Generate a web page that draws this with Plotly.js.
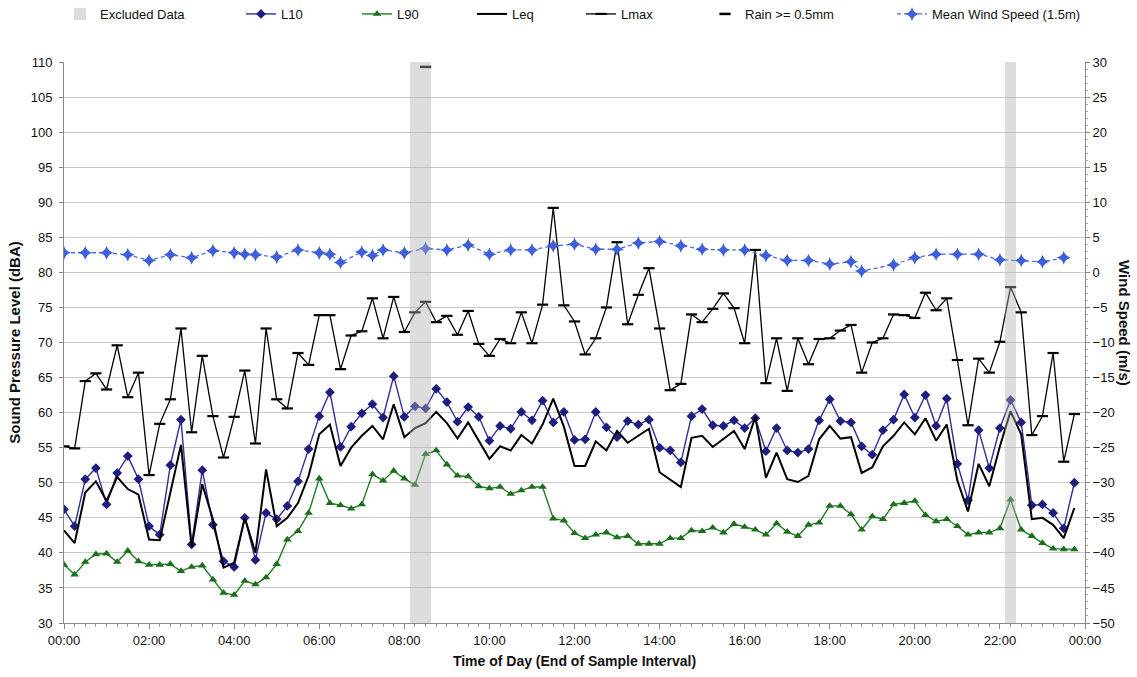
<!DOCTYPE html>
<html>
<head>
<meta charset="utf-8">
<script src="https://cdn.plot.ly/plotly-3.0.1.min.js"></script>
<style>
  html, body { margin: 0; padding: 0; background: #ffffff; }
  #chart { width: 1137px; height: 677px; }
</style>
</head>
<body>
<div id="chart"></div>
<script>
// ---- Data ----
const day = '2024-01-01 ';
const times = ['00:00','00:15','00:30','00:45','01:00','01:15','01:30','01:45','02:00','02:15','02:30','02:45',
'03:00','03:15','03:30','03:45','04:00','04:15','04:30','04:45','05:00','05:15','05:30','05:45',
'06:00','06:15','06:30','06:45','07:00','07:15','07:30','07:45','08:00','08:15','08:30','08:45',
'09:00','09:15','09:30','09:45','10:00','10:15','10:30','10:45','11:00','11:15','11:30','11:45',
'12:00','12:15','12:30','12:45','13:00','13:15','13:30','13:45','14:00','14:15','14:30','14:45',
'15:00','15:15','15:30','15:45','16:00','16:15','16:30','16:45','17:00','17:15','17:30','17:45',
'18:00','18:15','18:30','18:45','19:00','19:15','19:30','19:45','20:00','20:15','20:30','20:45',
'21:00','21:15','21:30','21:45','22:00','22:15','22:30','22:45','23:00','23:15','23:30','23:45'];

const L10 = [46.2,43.8,50.5,52.1,46.9,51.4,53.8,50.5,43.8,42.6,52.5,59.0,
41.2,51.8,44.0,38.8,38.0,45.0,39.0,45.7,44.8,46.7,50.2,54.8,
59.5,62.9,55.1,58.0,59.9,61.2,59.3,65.2,59.4,60.9,60.6,63.4,
61.5,58.7,60.8,59.4,56.0,58.1,57.7,60.1,58.9,61.7,58.6,60.1,
56.1,56.2,60.1,57.9,56.5,58.8,58.3,59.0,55.0,54.6,52.9,59.5,
60.5,58.2,58.1,58.9,57.8,59.2,54.5,57.8,54.6,54.3,54.8,58.9,
61.9,58.8,58.6,55.2,54.0,57.5,59.0,62.6,59.3,62.5,58.1,62.0,
52.7,47.5,57.5,52.1,57.8,61.8,58.6,46.8,46.9,45.7,43.5,50.0];

const L90 = [38.3,36.9,38.7,39.8,39.9,38.7,40.3,38.8,38.3,38.3,38.4,37.4,
38.0,38.2,36.2,34.3,34.0,36.0,35.5,36.5,38.4,41.9,43.1,45.7,
50.6,47.1,46.8,46.3,46.9,51.2,50.3,51.7,50.6,49.7,54.1,54.6,
52.6,51.0,50.9,49.5,49.2,49.4,48.4,48.9,49.4,49.4,44.9,44.6,
42.8,42.1,42.6,42.9,42.2,42.4,41.3,41.3,41.3,42.1,42.1,43.2,
43.1,43.6,42.9,44.1,43.7,43.3,42.6,44.2,43.0,42.4,44.0,44.3,
46.7,46.7,45.5,43.3,45.2,44.8,46.9,47.1,47.4,45.4,44.5,44.8,
43.8,42.6,42.9,42.9,43.5,47.6,43.3,42.4,41.4,40.6,40.5,40.5];

const Leq = [43.2,41.4,48.6,50.2,47.4,50.8,49.1,48.3,41.9,41.8,48.6,55.4,
40.8,49.8,44.8,37.9,38.6,45.0,40.0,51.9,43.8,45.0,47.1,51.0,
56.9,58.3,52.4,55.0,56.7,58.1,56.2,61.2,56.5,57.8,58.5,60.1,
58.5,56.3,58.6,56.1,53.4,55.2,54.6,56.8,55.6,58.3,62.0,58.0,
52.4,52.4,55.9,54.6,57.4,55.7,56.7,57.7,51.5,50.5,49.4,56.4,
56.7,55.1,56.2,57.4,54.8,59.4,50.7,54.3,50.5,50.1,51.0,56.2,
58.1,56.3,56.5,51.4,52.2,55.2,56.7,58.6,56.9,59.2,56.0,58.3,
50.3,45.9,52.7,49.5,55.2,60.2,56.9,44.8,45.0,44.0,42.1,46.4];

const Lmax = [55.2,54.9,64.5,65.6,63.3,69.6,62.2,65.7,51.1,58.4,61.9,72.0,
57.2,68.1,59.5,53.6,59.4,66.0,55.6,72.0,61.9,60.6,68.5,66.8,
73.9,73.9,66.2,71.0,71.6,76.3,70.6,76.5,71.5,74.3,75.8,72.9,
73.8,71.1,74.5,69.8,68.1,70.5,69.9,74.3,69.9,75.4,89.2,75.3,
73.0,68.3,70.6,75.0,84.3,72.6,76.8,80.6,72.0,63.2,64.1,74.0,
72.9,74.8,77.0,74.9,69.9,83.2,64.2,70.6,63.1,70.6,66.9,70.5,
70.6,71.7,72.5,65.7,70.0,70.6,74.0,73.9,73.5,77.1,74.6,76.3,
67.5,58.2,67.7,65.7,70.1,77.9,74.3,56.8,59.5,68.5,53.0,59.8];

const rainTimes = ['08:30'];
const rainLevel = [109.3];

const windTimes = ['00:00','00:30','01:00','01:30','02:00','02:30','03:00','03:30','04:00','04:15','04:30','05:00',
'05:30','06:00','06:15','06:30','07:00','07:15','07:30','08:00','08:30','09:00','09:30','10:00',
'10:30','11:00','11:30','12:00','12:30','13:00','13:30','14:00','14:30','15:00','15:30','16:00',
'16:30','17:00','17:30','18:00','18:30','18:45','19:30','20:00','20:30','21:00','21:30','22:00',
'22:30','23:00','23:30'];
const windSpeed = [2.8,2.8,2.8,2.5,1.7,2.5,2.1,3.1,2.8,2.6,2.5,2.2,
3.2,2.8,2.6,1.4,2.9,2.4,3.2,2.8,3.4,3.2,3.9,2.6,
3.2,3.2,3.8,4.0,3.3,3.3,4.2,4.4,3.8,3.3,3.2,3.2,
2.4,1.7,1.7,1.2,1.5,0.2,1.1,2.1,2.6,2.6,2.6,1.8,
1.7,1.5,2.1];

const excludedTimes = ['08:15','08:30','22:15'];
const excludedFlag = [1,1,1];

// ---- Build ----
const X = a => a.map(t => day + t);
const FONT = '"Liberation Sans Narrow", "Arial Narrow", "Liberation Sans", Arial, sans-serif';
const legFont = {family: FONT, size: 13, color: '#111'};

const traces = [
  {
    name: 'L10', type: 'scatter', mode: 'lines+markers', x: X(times), y: L10,
    line: {color: '#2e2e9e', width: 1.4},
    marker: {symbol: 'diamond', size: 7.5, color: '#1d1d80'},
    legend: 'legend2'
  },
  {
    name: 'L90', type: 'scatter', mode: 'lines+markers', x: X(times), y: L90,
    line: {color: '#1f7f1f', width: 1.4},
    marker: {symbol: 'triangle-up', size: 7.5, color: '#1b6e1b'},
    legend: 'legend3'
  },
  {
    name: 'Leq', type: 'scatter', mode: 'lines', x: X(times), y: Leq,
    line: {color: '#000000', width: 2},
    legend: 'legend4'
  },
  {
    name: 'Lmax', type: 'scatter', mode: 'lines+markers', x: X(times), y: Lmax,
    line: {color: '#000000', width: 1.3},
    marker: {symbol: 'line-ew', size: 8, color: '#000', line: {color: '#000', width: 2.2}},
    legend: 'legend5'
  },
  {
    name: 'Rain >= 0.5mm', type: 'scatter', mode: 'markers', x: X(rainTimes), y: rainLevel,
    marker: {symbol: 'line-ew', size: 8, color: '#000', line: {color: '#000', width: 2.5}},
    cliponaxis: false,
    legend: 'legend6'
  },
  {
    name: 'Mean Wind Speed (1.5m)', type: 'scatter', mode: 'lines+markers', x: X(windTimes), y: windSpeed,
    yaxis: 'y2',
    line: {color: '#4b6ee0', width: 1.3, dash: '4px,3px'},
    marker: {symbol: 'star-diamond', size: 10, color: '#3e5fd9'},
    legend: 'legend7'
  },
  {
    name: 'Excluded Data', type: 'bar', x: X(excludedTimes), y: excludedFlag,
    yaxis: 'y3', width: 900000,
    marker: {color: 'rgba(175,175,175,0.42)', line: {width: 0}},
    legend: 'legend'
  }
];

function leg(px) {
  return {
    x: (px - 64) / 1021, y: 1.0856, xref: 'paper', yref: 'paper',
    xanchor: 'left', yanchor: 'middle', orientation: 'h',
    bgcolor: 'rgba(0,0,0,0)', borderwidth: 0, font: legFont
  };
}

const layout = {
  width: 1137, height: 677,
  margin: {l: 64, r: 52, t: 62, b: 54, autoexpand: false},
  paper_bgcolor: '#ffffff', plot_bgcolor: '#ffffff',
  font: {family: FONT, size: 12.5, color: '#111'},
  showlegend: true,
  bargap: 0,
  legend: leg(60),
  legend2: leg(241),
  legend3: leg(357),
  legend4: leg(472),
  legend5: leg(581),
  legend6: leg(705),
  legend7: leg(892),
  xaxis: {
    type: 'date',
    range: [day + '00:00', '2024-01-02 00:00'],
    tickformat: '%H:%M', dtick: 7200000, tick0: day + '00:00',
    ticks: 'outside', ticklen: 5, tickcolor: '#888',
    minor: {dtick: 900000, ticks: 'outside', ticklen: 3, tickcolor: '#999', showgrid: false},
    showline: true, linecolor: '#888', linewidth: 1,
    showgrid: false, zeroline: false,
    tickfont: {family: FONT, size: 13, color: '#111'},
    title: {text: '<b>Time of Day (End of Sample Interval)</b>', font: {family: FONT, size: 14, color: '#111'}, standoff: 9}
  },
  yaxis: {
    range: [30, 110], dtick: 5, tick0: 30,
    ticks: 'outside', ticklen: 4, tickcolor: '#888', ticklabelstandoff: 4,
    showline: true, linecolor: '#888', linewidth: 1,
    showgrid: true, gridcolor: '#c9c9c9', gridwidth: 1, zeroline: false,
    tickfont: {family: FONT, size: 13, color: '#111'},
    title: {text: '<b>Sound Pressure Level (dBA)</b>', font: {family: FONT, size: 15, color: '#111'}, standoff: 6}
  },
  yaxis2: {
    range: [-50, 30], dtick: 5, tick0: -50,
    overlaying: 'y', side: 'right',
    ticks: 'outside', ticklen: 4, tickcolor: '#888',
    minor: {dtick: 1, ticks: 'outside', ticklen: 2, tickcolor: '#aaa'},
    showline: true, linecolor: '#888', linewidth: 1,
    showgrid: false, zeroline: false,
    tickfont: {family: FONT, size: 13, color: '#111'}
  },
  yaxis3: {
    range: [0, 1], overlaying: 'y', visible: false, fixedrange: true
  },
  annotations: [{
    text: '<b>Wind Speed (m/s)</b>', xref: 'paper', yref: 'paper',
    x: 1.038, y: 0.535, xanchor: 'center', yanchor: 'middle',
    textangle: 90, showarrow: false,
    font: {family: FONT, size: 15, color: '#111'}
  }]
};

Plotly.newPlot('chart', traces, layout, {displayModeBar: false, staticPlot: true});
</script>
</body>
</html>
